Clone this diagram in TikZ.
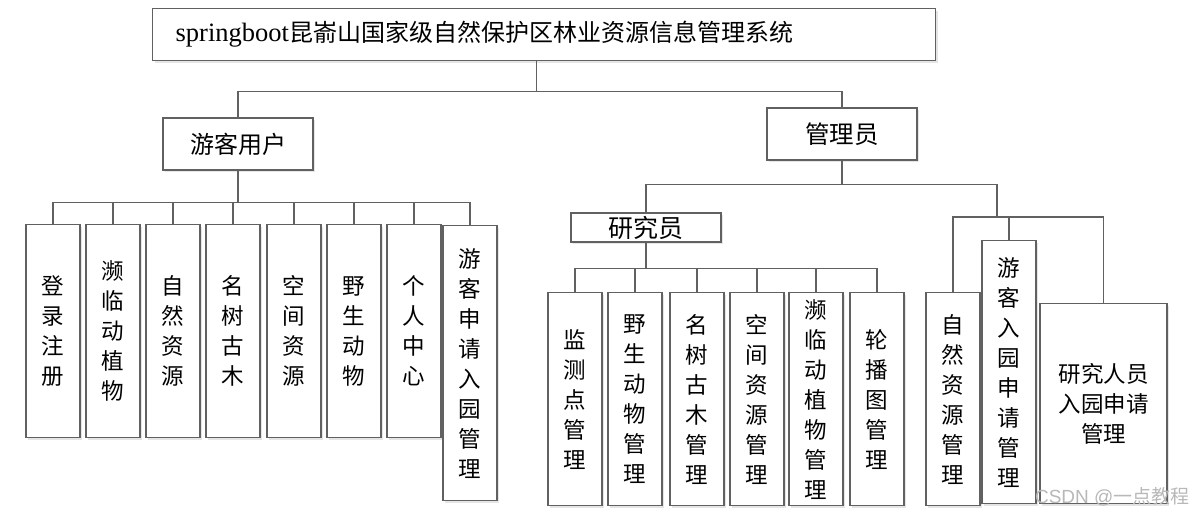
\documentclass[tikz,border=0pt]{standalone}
\usepackage{fontspec}
\setmainfont{Liberation Serif}
\newfontfamily\cjk{Noto Sans CJK SC}
\newfontfamily\markfont{Liberation Sans}
\usetikzlibrary{shadows}

\begin{document}
\begin{tikzpicture}[x=1pt, y=-1pt,
  box/.style={draw=black!62, line width=1.3pt, fill=white, inner sep=0pt, align=center,
    drop shadow={shadow xshift=2pt, shadow yshift=-2pt, fill=black!10, opacity=1}},
  head/.style={box, minimum width=150pt, minimum height=52pt, font=\cjk\fontsize{24}{26}\selectfont},
  leaf/.style={box, anchor=north, minimum width=54pt, minimum height=213pt, font=\cjk\fontsize{22.5}{30}\selectfont},
  link/.style={draw=black!62, line width=1.3pt}]

\useasboundingbox (0,0) rectangle (1198,523);

\node[box, anchor=north west, minimum height=52pt, text width=737pt, inner xsep=23pt, align=left,
  font=\fontsize{26.5}{28}\selectfont] (root) at (152,8) {springboot{\cjk\fontsize{24}{28}\selectfont 昆嵛山国家级自然保护区林业资源信息管理系统}};

\node[head] (visitor) at (238,144) {游客用户};
\node[head, font=\cjk\fontsize{24.5}{26}\selectfont] (admin) at (842,134) {管理员};
\node[head, minimum height=29pt, font=\cjk\fontsize{25}{26}\selectfont] (research) at (646,227.5) {研究员};
\coordinate (adminjoint) at (997,217);

% visitor side
\node[leaf] (login) at (53,224) {登\\录\\注\\册};
\node[leaf] (rare) at (113,224) {濒\\临\\动\\植\\物};
\node[leaf] (nature) at (173,224) {自\\然\\资\\源};
\node[leaf] (trees) at (233,224) {名\\树\\古\\木};
\node[leaf] (space) at (294,224) {空\\间\\资\\源};
\node[leaf] (wild) at (354,224) {野\\生\\动\\物};
\node[leaf] (center) at (414,224) {个\\人\\中\\心};
\node[leaf, minimum height=275pt] (apply) at (470,225) {游\\客\\申\\请\\入\\园\\管\\理};

% researcher side
\node[leaf] (monitor) at (575,292) {监\\测\\点\\管\\理};
\node[leaf] (wildmg) at (635,292) {野\\生\\动\\物\\管\\理};
\node[leaf] (treesmg) at (697,292) {名\\树\\古\\木\\管\\理};
\node[leaf] (spacemg) at (757,292) {空\\间\\资\\源\\管\\理};
\node[leaf] (raremg) at (816,292) {濒\\临\\动\\植\\物\\管\\理};
\node[leaf] (banner) at (877,292) {轮\\播\\图\\管\\理};

% admin side
\node[leaf] (naturemg) at (953,292) {自\\然\\资\\源\\管\\理};
\node[leaf, minimum height=263pt] (entrymg) at (1009,240) {游\\客\\入\\园\\申\\请\\管\\理};
\node[leaf, minimum width=127pt, minimum height=200pt] (staffmg) at (1103.5,303) {研究人员\\入园申请\\管理};

\node[font=\markfont\fontsize{19}{22}\selectfont, text=black!28, anchor=east] (mark) at (1193,497) {CSDN @{\cjk 一点教程}};

\draw[link] ([xshift=-8pt]root.south) -- ++(0,30) -| (visitor.north);
\draw[link] ([xshift=-8pt]root.south) -- ++(0,30) -| (admin.north);

\draw[link] (visitor.south) -- ++(0,32) -| (login.north);
\draw[link] (visitor.south) -- ++(0,32) -| (rare.north);
\draw[link] (visitor.south) -- ++(0,32) -| (nature.north);
\draw[link] (visitor.south) -- ++(0,32) -| (trees.north);
\draw[link] (visitor.south) -- ++(0,32) -| (space.north);
\draw[link] (visitor.south) -- ++(0,32) -| (wild.north);
\draw[link] (visitor.south) -- ++(0,32) -| (center.north);
\draw[link] (visitor.south) -- ++(0,32) -| (apply.north);

\draw[link] (admin.south) -- ++(0,24) -| (research.north);
\draw[link] (admin.south) -- ++(0,24) -| (adminjoint);

\draw[link] (research.south) -- ++(0,26) -| (monitor.north);
\draw[link] (research.south) -- ++(0,26) -| (wildmg.north);
\draw[link] (research.south) -- ++(0,26) -| (treesmg.north);
\draw[link] (research.south) -- ++(0,26) -| (spacemg.north);
\draw[link] (research.south) -- ++(0,26) -| (raremg.north);
\draw[link] (research.south) -- ++(0,26) -| (banner.north);

\draw[link] (adminjoint) -| (naturemg.north);
\draw[link] (adminjoint) -| (entrymg.north);
\draw[link] (adminjoint) -| (staffmg.north);
\end{tikzpicture}
\end{document}
